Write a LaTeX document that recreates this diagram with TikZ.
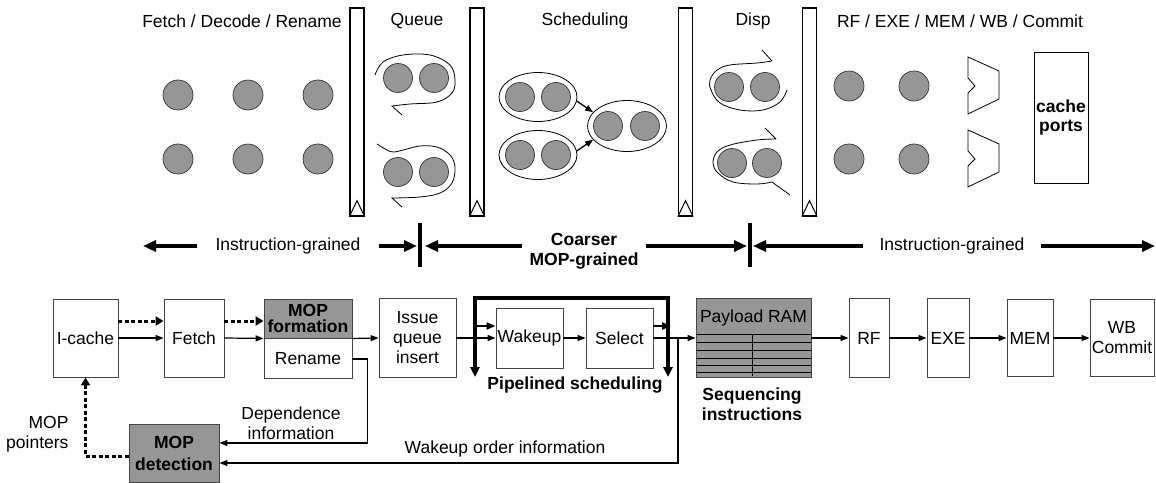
\documentclass[tikz,border=0pt]{standalone}
\usepackage{fontspec}
\setmainfont{Liberation Sans}
\usetikzlibrary{arrows.meta,shapes.geometric,calc}
\definecolor{ballgray}{RGB}{150,150,150}
\definecolor{boxgray}{RGB}{150,150,150}
\definecolor{edgegray}{RGB}{70,70,70}
\newcommand\fsz{\fontsize{17.5}{20}\selectfont}
\begin{document}
\begin{tikzpicture}[x=1pt,y=-1pt,
  every node/.style={font=\fsz},
  box/.style={draw=edgegray, line width=0.9pt, fill=white, inner sep=0pt, align=center},
  gbox/.style={box, fill=boxgray},
  ball/.style={circle, draw=black!80, fill=ballgray, line width=0.7pt, minimum size=29pt, inner sep=0pt},
  ellbox/.style={ellipse, draw=black, line width=0.8pt, inner sep=0pt},
  latchbar/.style={draw=black, line width=1.3pt, fill=white, inner sep=0pt, minimum width=14pt, minimum height=208pt},
  swirl/.style={draw=black, line width=0.8pt},
  arr/.style={line width=1.2pt, -{Triangle[length=8pt,width=6pt]}},
  marr/.style={line width=2.4pt, -{Triangle[length=9pt,width=7pt]}},
  darr/.style={line width=3pt, dash pattern=on 4pt off 2.5pt, -{Triangle[length=8pt,width=9pt]}},
  barr/.style={line width=3.5pt, -{Triangle[length=13pt,width=11pt]}},
  divider/.style={line width=3.5pt},
  boldtxt/.style={font=\fsz\bfseries, align=center}
]
\useasboundingbox[fill=white] (0,0) rectangle (1156,482);

% ---------- top titles ----------
\node (tFDR) at (242,21) {Fetch / Decode / Rename};
\node (tQ) at (417,21) {Queue};
\node (tS) at (585,21) {Scheduling};
\node (tD) at (753,21) {Disp};
\node (tR) at (960,21) {RF / EXE / MEM / WB / Commit};

% ---------- latches ----------
\foreach \n/\x in {lat1/357, lat2/477, lat3/685.5, lat4/809.5}{
  \node[latchbar] (\n) at (\x,112) {};
  \draw[line width=1pt] (\n.south west) -- ([yshift=16pt]\n.south) -- (\n.south east);
}

% ---------- fetch/decode/rename balls ----------
\foreach \n/\x/\y in {f1/178/95, f2/248/95, f3/318/95, f4/178/159, f5/248/159, f6/318/159}{
  \node[ball, minimum size=30pt] (\n) at (\x,\y) {};
}

% ---------- queue ----------
\draw[swirl] plot[smooth, tension=0.6] coordinates {(375,75) (383,62) (403,55) (430,55) (450,65) (455,80) (452,93) (437,102) (410,104) (392,106)} -- (402,115);
\draw[swirl] plot[smooth, tension=0.6] coordinates {(377,144) (387,150) (394,152) (407,149) (420,146) (437,147) (450,155) (455,167) (452,183) (440,193) (420,197) (392,198)} -- (402,207);
\foreach \n/\x/\y in {q1/398/78, q2/434/78, q3/398/172, q4/434/172}{
  \node[ball] (\n) at (\x,\y) {};
}

% ---------- scheduling ----------
\node[ellbox, minimum width=78pt, minimum height=49pt] (e1) at (538,97) {};
\node[ellbox, minimum width=78pt, minimum height=49pt] (e2) at (538,155) {};
\node[ellbox, minimum width=79pt, minimum height=51pt] (e3) at (627,126) {};
\foreach \n/\x/\y in {s1/520/97, s2/556/97, s3/520/155, s4/556/155, s5/608/126, s6/645/126}{
  \node[ball] (\n) at (\x,\y) {};
}
\draw[arr, line width=1.3pt] (e1.-6) -- (e3.158);
\draw[arr, line width=1.3pt] (e2.6) -- (e3.202);

% ---------- dispatch ----------
\draw[swirl] (762,50) -- (772,61) plot[smooth, tension=0.6] coordinates {(772,61) (757,63) (730,65) (717,70) (710,80) (711,90) (720,103) (740,110) (763,110) (780,102) (787,90)};
\draw[swirl] (765,128) -- (776,139) plot[smooth, tension=0.6] coordinates {(776,139) (757,140) (730,145) (717,152) (713,163) (718,173) (733,182) (757,184) (772,182)} -- (790,195);
\foreach \n/\x/\y in {d1/729/87, d2/765/87, d3/732/163, d4/767/163}{
  \node[ball] (\n) at (\x,\y) {};
}

% ---------- RF/EXE/MEM ----------
\foreach \n/\x/\y in {r1/849/86, r2/914/86, r3/849/159, r4/914/159}{
  \node[ball, minimum size=30pt] (\n) at (\x,\y) {};
}
\draw[line width=0.8pt] (968,57) -- (999,71) -- (999,99) -- (968,114) -- (968,93) -- (975,86) -- (968,78) -- cycle;
\draw[line width=0.8pt] (968,130) -- (999,144) -- (999,172) -- (968,187) -- (968,166) -- (975,159) -- (968,151) -- cycle;
\node[box, draw=black, minimum width=54pt, minimum height=131pt, font=\fontsize{17.5}{19}\selectfont\bfseries] (cache) at (1061,117.5) {cache\\ports};

% ---------- granularity arrows ----------
\coordinate (aL) at (143,246);
\coordinate (aR) at (1155,246);
\coordinate (div1) at (420,246);
\coordinate (div2) at (750,246);
\draw[divider] ([yshift=23pt]div1) -- ([yshift=-21pt]div1);
\draw[divider] ([yshift=23pt]div2) -- ([yshift=-21pt]div2);
\node[inner xsep=18pt] (ig1) at (288,246) {Instruction-grained};
\draw[barr] (ig1.west) -- (aL);
\draw[barr] (ig1.east) -- ([xshift=-3pt]div1);
\node[boldtxt, inner xsep=7pt] (cmop) at (584,251) {Coarser\\MOP-grained};
\draw[barr] (cmop.west |- div1) -- ([xshift=5pt]div1);
\draw[barr] (cmop.east |- div2) -- ([xshift=-3pt]div2);
\node[inner xsep=16pt] (ig2) at (952,246) {Instruction-grained};
\draw[barr] (ig2.west) -- ([xshift=3pt]div2);
\draw[barr] (ig2.east) -- (aR);

% ---------- pipeline boxes ----------
\node[box, minimum width=65pt, minimum height=78pt] (icache) at (85.5,338) {I-cache};
\node[box, minimum width=60pt, minimum height=78pt] (fetch) at (194,338) {Fetch};
\node[gbox, minimum width=88pt, minimum height=39pt, font=\fontsize{17.5}{16}\selectfont\bfseries] (mopf) at (308,318.5) {MOP\\formation};
\node[box, minimum width=88pt, minimum height=40pt, anchor=north] (rename) at (mopf.south) {Rename};
\node[box, minimum width=77pt, minimum height=79pt] (iq) at (417.5,338) {Issue\\queue\\insert};
\node[box, minimum width=67pt, minimum height=60pt] (wake) at (529.5,338) {Wakeup};
\node[box, minimum width=67pt, minimum height=60pt] (sel) at (619.5,338) {Select};
\node[gbox, minimum width=115pt, minimum height=79pt] (pay) at (753.5,338) {};
\node (paytxt) at (753.5,318) {Payload RAM};
\draw[line width=0.8pt] (pay.west |- 0,334) -- (pay.east |- 0,334);
\foreach \yy in {342,350,358,365,372}{
  \draw[line width=0.6pt] (pay.west |- 0,\yy) -- (pay.east |- 0,\yy);
}
\draw[line width=0.8pt] (752,334) -- (752,376);
\node[box, minimum width=40pt, minimum height=79pt] (rf) at (869,338) {RF};
\node[box, minimum width=42pt, minimum height=79pt] (exe) at (948,338) {EXE};
\node[box, minimum width=46pt, minimum height=77pt] (mem) at (1030,338) {MEM};
\node[box, minimum width=64pt, minimum height=77pt] (wb) at (1122,338) {WB\\Commit};
\node[gbox, minimum width=90pt, minimum height=58pt, font=\fontsize{17.5}{22}\selectfont\bfseries] (mopd) at (174,453) {MOP\\detection};

% ---------- pipeline connectors ----------
\draw[arr] (icache) -- (fetch);
\draw[darr] ([yshift=17pt]icache.east) -- ([yshift=17pt]fetch.west);
\draw[arr] (fetch.east) -- (rename.north west);
\draw[darr] ([yshift=17pt]fetch.east) -- ([yshift=17pt]fetch.east -| mopf.west);
\draw[arr] (rename.north east) -- (iq.west);
\draw[arr] (iq) -- (wake);
\draw[arr] (wake) -- (sel);
\draw[arr] (sel) -- (pay);
\draw[arr] (pay) -- (rf);
\draw[arr] (rf) -- (exe);
\draw[arr] (exe) -- (mem);
\draw[arr] (mem) -- (wb);

% scheduling loop
\coordinate (lpBL) at (475,377);
\coordinate (lpTL) at (475,298);
\coordinate (lpTR) at (668,298);
\coordinate (lpBR) at (668,377);
\draw[line width=3.5pt, {Triangle[length=10pt,width=9pt]}-{Triangle[length=10pt,width=9pt]}] (lpBL) -- (lpTL) -- (lpTR) -- (lpBR);
\draw[marr] ([yshift=12pt]wake.west -| lpTL) -- ([yshift=12pt]wake.west);
\draw[marr] ([yshift=12pt]sel.east) -- ([yshift=12pt,xshift=3pt]sel.east -| lpTR);

% feedback
\coordinate (jn) at (678,338);
\draw[arr] (jn) |- ([yshift=-10pt]mopd.east);
\draw[arr] (rename.east) -- ++(15,0) |- ([yshift=10pt]mopd.east);
\draw[darr] ([yshift=-3pt]mopd.west) -| (icache.south);

% labels
\node[align=center] (depinfo) at (291,423) {Dependence\\information};
\node (woi) at (505,449) {Wakeup order information};
\node[align=right, anchor=east] (mptr) at (72,434) {MOP\\pointers};
\node[boldtxt] (pipe) at (575,385) {Pipelined scheduling};
\node[boldtxt] (seq) at (752,404) {Sequencing\\instructions};
\end{tikzpicture}
\end{document}
